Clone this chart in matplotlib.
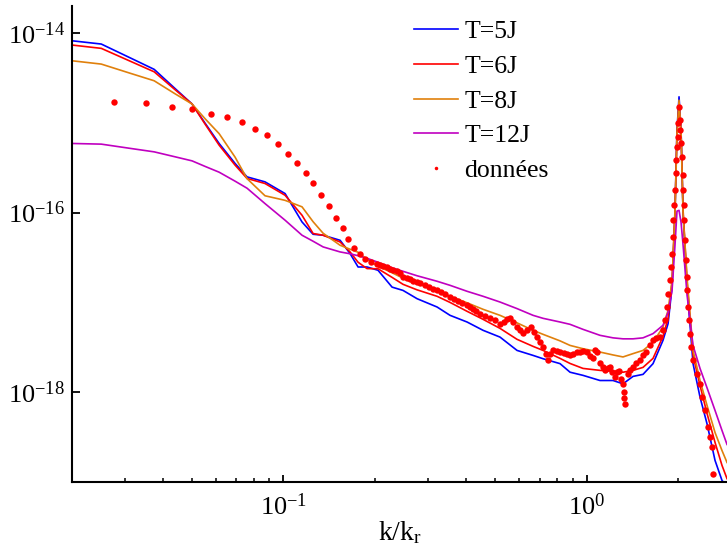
import matplotlib
matplotlib.use("Agg")
import matplotlib.pyplot as plt
from matplotlib.ticker import FixedLocator, LogLocator, NullFormatter, LogFormatterSciNotation

plt.rcParams['font.family'] = ['Liberation Serif', 'DejaVu Serif']
plt.rcParams['mathtext.fontset'] = 'custom'
plt.rcParams['mathtext.rm'] = 'Liberation Serif'
plt.rcParams['mathtext.it'] = 'Liberation Serif:italic'
plt.rcParams['axes.unicode_minus'] = False

# k/kr grid of the model curves
k_model = [0.0201, 0.0251, 0.0313, 0.0375, 0.0440, 0.0500, 0.0552, 0.0614, 0.0693, 0.0759,
           0.0870, 0.1013, 0.1152, 0.1253, 0.1352, 0.1538, 0.1659, 0.1763, 0.1887, 0.2051,
           0.2282, 0.2480, 0.2759, 0.3211, 0.3543, 0.4032, 0.4552, 0.5177, 0.5892, 0.6653,
           0.7178, 0.8166, 0.8810, 0.9723, 1.106, 1.221, 1.317, 1.421, 1.533, 1.654,
           1.784, 1.854, 1.911, 1.954, 1.984, 2.015, 2.046, 2.078, 2.142, 2.241,
           2.363, 2.492, 2.648, 2.792, 2.900]

s_5J = [8.20e-15, 7.54e-15, 5.28e-15, 3.94e-15, 2.40e-15, 1.62e-15, 9.9e-16, 5.89e-16, 3.53e-16, 2.50e-16,
        2.20e-16, 1.63e-16, 7.87e-17, 5.74e-17, 5.60e-17, 4.92e-17, 3.50e-17, 2.48e-17, 2.48e-17, 2.28e-17,
        1.48e-17, 1.36e-17, 1.10e-17, 8.89e-18, 7.18e-18, 6.05e-18, 4.89e-18, 4.11e-18, 2.92e-18, 2.57e-18,
        2.36e-18, 2.08e-18, 1.67e-18, 1.54e-18, 1.35e-18, 1.35e-18, 1.24e-18, 1.50e-18, 1.58e-18, 2.08e-18,
        3.78e-18, 5.80e-18, 1.48e-17, 9.77e-17, 8.29e-16, 1.95e-15, 8.29e-16, 9.77e-17, 1.48e-17, 2.08e-18,
        8.82e-19, 4.45e-19, 1.74e-19, 1.04e-19, 9.0e-20]

s_6J = [7.35e-15, 6.75e-15, 4.85e-15, 3.70e-15, 2.33e-15, 1.62e-15, 9.67e-16, 5.64e-16, 3.38e-16, 2.40e-16,
        2.11e-16, 1.56e-16, 9.35e-17, 5.85e-17, 5.60e-17, 4.71e-17, 3.65e-17, 2.80e-17, 2.38e-17, 2.37e-17,
        1.90e-17, 1.59e-17, 1.38e-17, 1.17e-17, 1.00e-17, 7.96e-18, 6.48e-18, 5.14e-18, 3.88e-18, 3.24e-18,
        2.92e-18, 2.38e-18, 2.09e-18, 1.84e-18, 1.75e-18, 1.71e-18, 1.67e-18, 1.75e-18, 1.89e-18, 2.38e-18,
        4.19e-18, 6.65e-18, 1.67e-17, 1.06e-16, 7.87e-16, 1.66e-15, 7.87e-16, 1.06e-16, 1.67e-17, 2.57e-18,
        1.19e-18, 5.80e-19, 2.76e-19, 1.53e-19, 1.09e-19]

s_8J = [4.91e-15, 4.51e-15, 3.56e-15, 2.94e-15, 2.10e-15, 1.62e-15, 1.11e-15, 7.58e-16, 4.15e-16, 2.39e-16,
        1.54e-16, 1.37e-16, 1.16e-16, 7.92e-17, 5.89e-17, 4.33e-17, 3.91e-17, 3.62e-17, 3.02e-17, 2.53e-17,
        2.14e-17, 1.86e-17, 1.63e-17, 1.35e-17, 1.17e-17, 9.9e-18, 8.38e-18, 7.18e-18, 5.92e-18, 4.89e-18,
        4.41e-18, 3.73e-18, 3.32e-18, 3.05e-18, 2.80e-18, 2.60e-18, 2.47e-18, 2.69e-18, 2.92e-18, 3.59e-18,
        5.32e-18, 8.17e-18, 1.76e-17, 9.77e-17, 7.29e-16, 1.79e-15, 7.68e-16, 9.77e-17, 1.86e-17, 2.92e-18,
        1.35e-18, 7.13e-19, 3.56e-19, 2.24e-19, 1.65e-19]

s_12J = [5.89e-16, 5.79e-16, 5.19e-16, 4.75e-16, 4.18e-16, 3.77e-16, 3.27e-16, 2.82e-16, 2.24e-16, 1.87e-16,
         1.26e-16, 8.23e-17, 5.60e-17, 4.80e-17, 4.15e-17, 3.65e-17, 3.48e-17, 3.31e-17, 3.10e-17, 2.80e-17,
         2.43e-17, 2.22e-17, 1.98e-17, 1.72e-17, 1.55e-17, 1.33e-17, 1.17e-17, 1.01e-17, 8.53e-18, 7.18e-18,
         6.65e-18, 6.05e-18, 5.70e-18, 5.01e-18, 4.30e-18, 4.03e-18, 3.93e-18, 3.93e-18, 4.03e-18, 4.49e-18,
         5.56e-18, 7.76e-18, 1.36e-17, 4.33e-17, 1.04e-16, 1.06e-16, 7.81e-17, 4.33e-17, 1.20e-17, 3.32e-18,
         1.84e-18, 1.12e-18, 6.27e-19, 3.75e-19, 2.62e-19]

# measured spectrum ("données")
k_data = [0.0276, 0.0353, 0.0430, 0.0500, 0.0578, 0.0652, 0.0731, 0.0805, 0.0884, 0.0961,
          0.1034, 0.1112, 0.1184, 0.1250, 0.1328, 0.1411, 0.1492, 0.1570, 0.1631, 0.1714,
          0.1790, 0.1859, 0.1941, 0.2031, 0.2083, 0.2135, 0.2192, 0.2247, 0.2299, 0.2364,
          0.2424, 0.2485, 0.2551, 0.2615, 0.2676, 0.2753, 0.2822, 0.2931, 0.3021, 0.3121,
          0.3211, 0.3310, 0.3412, 0.3543, 0.3652, 0.3766, 0.3882, 0.4022, 0.4125, 0.4219,
          0.4316, 0.4449, 0.4622, 0.4801, 0.4985, 0.5177, 0.5339, 0.5462, 0.5587, 0.5716,
          0.5892, 0.6028, 0.6166, 0.6356, 0.6553, 0.6704, 0.6858, 0.7016, 0.7178, 0.7343,
          0.7455, 0.7568, 0.7743, 0.7981, 0.8166, 0.8418, 0.8612, 0.8810, 0.9012, 0.9290,
          0.9504, 0.9723, 1.002, 1.025, 1.049, 1.065, 1.081, 1.106, 1.132, 1.149,
          1.175, 1.193, 1.212, 1.240, 1.259, 1.278, 1.298, 1.317, 1.327, 1.327,
          1.337, 1.368, 1.389, 1.421, 1.454, 1.498, 1.533, 1.569, 1.617, 1.654,
          1.692, 1.744, 1.784, 1.812, 1.835, 1.858, 1.882, 1.892, 1.907, 1.921,
          1.930, 1.940, 1.954, 1.965, 1.974, 1.984, 1.995, 2.004, 2.015, 2.026,
          2.035, 2.046, 2.062, 2.073, 2.083, 2.087, 2.094, 2.109, 2.125, 2.136,
          2.146, 2.162, 2.174, 2.190, 2.207, 2.246, 2.305, 2.363, 2.393, 2.454,
          2.516, 2.549, 2.582, 2.602]
s_data = [1.71e-15, 1.65e-15, 1.51e-15, 1.41e-15, 1.27e-15, 1.15e-15, 1.02e-15, 8.57e-16, 7.24e-16, 5.79e-16,
          4.51e-16, 3.53e-16, 2.75e-16, 2.11e-16, 1.56e-16, 1.19e-16, 8.82e-17, 6.75e-17, 5.14e-17, 4.08e-17,
          3.44e-17, 3.08e-17, 2.82e-17, 2.66e-17, 2.59e-17, 2.53e-17, 2.46e-17, 2.38e-17, 2.31e-17, 2.24e-17,
          2.11e-17, 1.92e-17, 1.86e-17, 1.81e-17, 1.74e-17, 1.69e-17, 1.63e-17, 1.55e-17, 1.49e-17, 1.42e-17,
          1.36e-17, 1.30e-17, 1.23e-17, 1.15e-17, 1.10e-17, 1.04e-17, 9.90e-18, 9.28e-18, 8.82e-18, 8.38e-18,
          7.96e-18, 7.50e-18, 7.00e-18, 6.65e-18, 6.32e-18, 5.70e-18, 6.00e-18, 6.48e-18, 6.65e-18, 6.00e-18,
          5.28e-18, 4.89e-18, 4.52e-18, 4.89e-18, 5.28e-18, 4.64e-18, 4.08e-18, 3.59e-18, 3.16e-18, 2.64e-18,
          2.26e-18, 2.64e-18, 2.92e-18, 2.85e-18, 2.78e-18, 2.71e-18, 2.64e-18, 2.57e-18, 2.64e-18, 2.78e-18,
          2.78e-18, 2.85e-18, 2.78e-18, 2.51e-18, 2.38e-18, 2.92e-18, 2.78e-18, 2.09e-18, 1.89e-18, 1.75e-18,
          1.84e-18, 1.89e-18, 1.66e-18, 1.46e-18, 1.66e-18, 1.71e-18, 1.42e-18, 1.22e-18, 9.95e-19, 8.53e-19,
          7.31e-19, 1.58e-18, 1.75e-18, 1.89e-18, 2.09e-18, 2.26e-18, 2.57e-18, 2.78e-18, 3.32e-18, 3.78e-18,
          3.98e-18, 4.08e-18, 4.89e-18, 6.32e-18, 8.89e-18, 1.25e-17, 1.76e-17, 2.48e-17, 3.50e-17, 5.36e-17,
          8.23e-17, 1.21e-16, 1.78e-16, 2.73e-16, 3.84e-16, 5.40e-16, 6.98e-16, 9.85e-16, 1.50e-15, 1.07e-15,
          8.29e-16, 5.89e-16, 4.18e-16, 2.61e-16, 1.78e-16, 1.21e-16, 8.23e-17, 4.92e-17, 2.94e-17, 1.92e-17,
          1.36e-17, 8.89e-18, 6.32e-18, 4.49e-18, 3.18e-18, 2.26e-18, 1.61e-18, 1.24e-18, 8.82e-19, 6.27e-19,
          4.08e-19, 3.16e-19, 2.44e-19, 1.23e-19]

fig = plt.figure(figsize=(7.27, 5.57), dpi=100)
ax = fig.add_axes([72 / 727, 1 - 482 / 557, 655 / 727, 476 / 557])

lw = 1.2
ax.plot(k_model, s_5J, color='#0000ff', lw=lw, label='T=5J')
ax.plot(k_model, s_6J, color='#ff0000', lw=lw, label='T=6J')
ax.plot(k_model, s_8J, color='#e0800c', lw=lw, label='T=8J')
ax.plot(k_model, s_12J, color='#c000c0', lw=lw, label='T=12J')
ax.plot(k_data, s_data, 'o', color='#ff0000', ms=4.6, mec='none', label='données')

ax.set_xscale('log')
ax.set_yscale('log')
ax.set_xlim(0.0201, 2.9)
ax.set_ylim(1e-19, 2e-14)

ax.yaxis.set_major_locator(FixedLocator([1e-18, 1e-16, 1e-14]))
ax.yaxis.set_major_formatter(LogFormatterSciNotation())
ax.yaxis.set_minor_locator(FixedLocator([]))
ax.xaxis.set_major_locator(LogLocator(base=10))
ax.xaxis.set_minor_locator(LogLocator(base=10, subs=range(2, 10)))
ax.xaxis.set_minor_formatter(NullFormatter())

for side in ['top', 'right']:
    ax.spines[side].set_visible(False)
for side in ['left', 'bottom']:
    ax.spines[side].set_linewidth(1.5)

ax.tick_params(which='major', direction='in', length=5, width=1.3, labelsize=19)
ax.tick_params(which='minor', direction='in', length=3, width=1.1)
ax.tick_params(axis='x', which='major', pad=8)
ax.tick_params(axis='y', which='major', pad=5, length=6)

ax.set_xlabel(r'k/k$_{\mathrm{r}}$', fontsize=20, labelpad=0)

leg = ax.legend(loc='upper left', bbox_to_anchor=(414 / 727, 1 - 20 / 557),
                bbox_transform=fig.transFigure, frameon=False, fontsize=18.5,
                handlelength=1.7, handletextpad=0.25, labelspacing=0.46,
                borderpad=0, borderaxespad=0, markerscale=0.55)

fig.savefig('out.png', dpi=100)
